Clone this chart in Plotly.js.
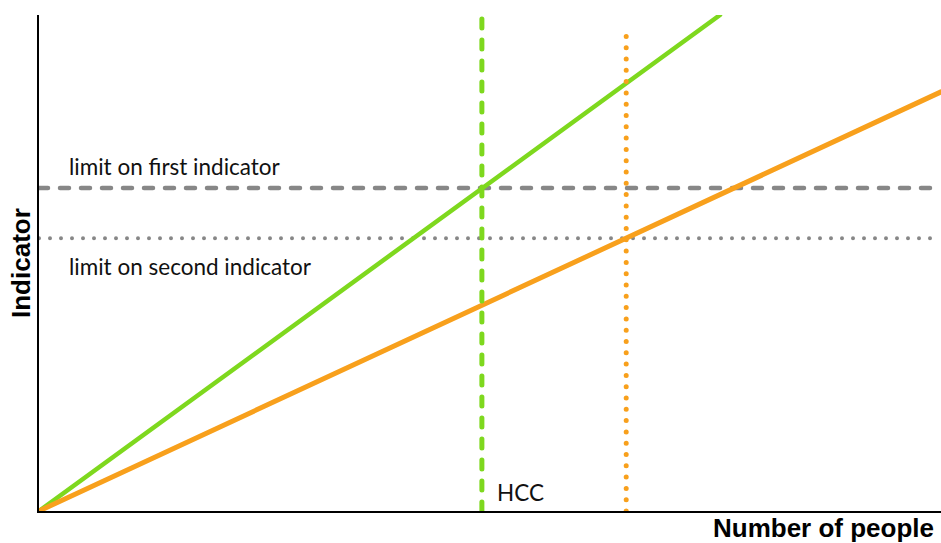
<!DOCTYPE html>
<html>
<head>
<meta charset="utf-8">
<script src="https://cdn.plot.ly/plotly-3.0.1.min.js"></script>
<style>html,body{margin:0;padding:0;background:#fff;}#chart{width:941px;height:543px;}</style>
</head>
<body>
<div id="chart"></div>
<script>
// Data (arbitrary units, x: 0-10, y: 0-10)
var greenX = [0, 7.55];
var greenY = [0, 10];
var orangeX = [0, 10];
var orangeY = [0, 8.45];
var limitX = [0, 10];
var firstLimitY = [6.51, 6.51];
var secondLimitY = [5.50, 5.50];
var hccX = [4.91, 4.91];
var hccY = [0, 10];
var orangeCrossX = [6.51, 6.51];
var orangeCrossY = [0, 9.78];
var labels = ["limit on first indicator", "limit on second indicator", "HCC"];
var xTitle = "Number of people";
var yTitle = "Indicator";

var traces = [
  {x: limitX, y: firstLimitY, mode: 'lines', line: {color: '#878787', width: 4.5, dash: '9px,12px'}, cliponaxis: false, hoverinfo: 'skip'},
  {x: limitX, y: secondLimitY, mode: 'lines', line: {color: '#878787', width: 4, dash: '0px,11px'}, cliponaxis: false, hoverinfo: 'skip'},
  {x: greenX, y: greenY, mode: 'lines', line: {color: '#7ED81E', width: 4.5}, cliponaxis: false, hoverinfo: 'skip'},
  {x: orangeX, y: orangeY, mode: 'lines', line: {color: '#F8A01C', width: 5}, cliponaxis: false, hoverinfo: 'skip'},
  {x: hccX, y: hccY, mode: 'lines', line: {color: '#7ED81E', width: 5, dash: '9px,12px'}, cliponaxis: false, hoverinfo: 'skip'},
  {x: orangeCrossX, y: orangeCrossY, mode: 'lines', line: {color: '#F8A01C', width: 5, dash: '0px,11.3px'}, cliponaxis: false, hoverinfo: 'skip'}
];

var labelFont = {family: 'Lato, "Open Sans", sans-serif', size: 22.5, color: '#111'};
var titleFont = {family: '"Liberation Sans", Arial, sans-serif', size: 26, color: '#000'};
var layout = {
  width: 941, height: 543,
  margin: {l: 39, r: 0, t: 15, b: 32},
  paper_bgcolor: '#fff', plot_bgcolor: '#fff',
  showlegend: false,
  xaxis: {range: [0, 10], showline: true, linecolor: '#000', linewidth: 2, showgrid: false, zeroline: false, showticklabels: false, ticks: '', fixedrange: true},
  yaxis: {range: [0, 10], showline: true, linecolor: '#000', linewidth: 2, showgrid: false, zeroline: false, showticklabels: false, ticks: '', fixedrange: true},
  annotations: [
    {x: 0.31, y: firstLimitY[0] + 0.43, xref: 'x', yref: 'y', text: labels[0], showarrow: false, xanchor: 'left', yanchor: 'middle', font: labelFont},
    {x: 0.31, y: secondLimitY[0] - 0.57, xref: 'x', yref: 'y', text: labels[1], showarrow: false, xanchor: 'left', yanchor: 'middle', font: labelFont},
    {x: hccX[0] + 0.15, y: 0.38, xref: 'x', yref: 'y', text: labels[2], showarrow: false, xanchor: 'left', yanchor: 'middle', font: labelFont},
    {x: 1, y: 0, xref: 'paper', yref: 'paper', xshift: -5, yshift: -17, text: '<b>' + xTitle + '</b>', showarrow: false, xanchor: 'right', yanchor: 'middle', font: titleFont},
    {x: 0, y: 0.5, xref: 'paper', yref: 'paper', xshift: -18, text: '<b>' + yTitle + '</b>', textangle: -90, showarrow: false, xanchor: 'center', yanchor: 'middle', font: titleFont}
  ]
};

Plotly.newPlot('chart', traces, layout, {displayModeBar: false, staticPlot: true}).then(function (gd) {
  gd.querySelectorAll('.scatterlayer path.js-line').forEach(function (p) {
    p.style.strokeLinecap = 'round';
  });
});
</script>
</body>
</html>
